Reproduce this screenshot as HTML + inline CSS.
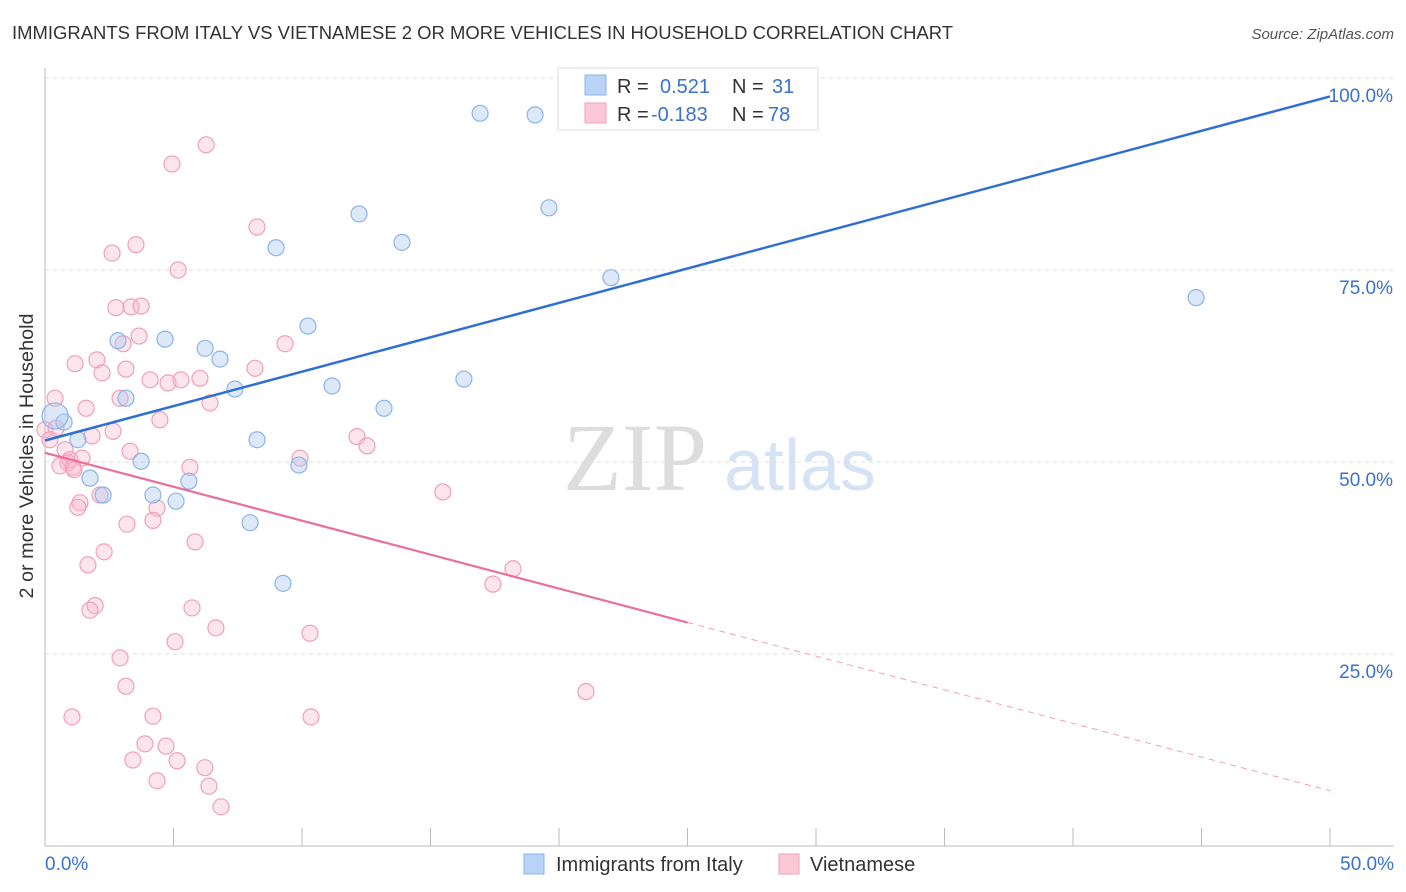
<!DOCTYPE html>
<html><head><meta charset="utf-8"><style>
body{margin:0;background:#fff;font-family:"Liberation Sans",sans-serif}
svg{display:block}
</style></head><body>
<svg id="chart" width="1406" height="892">
<text x="12" y="39" font-size="18" fill="#333" textLength="941" lengthAdjust="spacingAndGlyphs">IMMIGRANTS FROM ITALY VS VIETNAMESE 2 OR MORE VEHICLES IN HOUSEHOLD CORRELATION CHART</text>
<text x="1394" y="39" font-size="15" fill="#555" font-style="italic" text-anchor="end">Source: ZipAtlas.com</text>
<text x="635" y="490" font-size="96" fill="#ddd" font-family="Liberation Serif" text-anchor="middle">ZIP</text>
<text x="800" y="490" font-size="72" fill="#d5e3f5" text-anchor="middle">atlas</text>
<g id="grid"></g><g id="pts"></g><g id="lines"></g>
<text transform="translate(33,456) rotate(-90)" font-size="19" fill="#333" text-anchor="middle" textLength="285" lengthAdjust="spacingAndGlyphs">2 or more Vehicles in Household</text>
<g>
<rect x="558" y="68" width="260" height="62" fill="#fff" stroke="#ddd"/>
<rect x="585" y="75" width="21" height="20" fill="#b8d3f5" stroke="#8ab4ea"/>
<rect x="585" y="103" width="21" height="20" fill="#fcc8d7" stroke="#f0a0b8"/>
<text x="617" y="93" font-size="20" fill="#333">R = </text><text x="660" y="93" font-size="20" fill="#3a72cc">0.521</text>
<text x="732" y="93" font-size="20" fill="#333">N = </text><text x="772" y="93" font-size="20" fill="#3a72cc">31</text>
<text x="617" y="121" font-size="20" fill="#333">R = </text><text x="651" y="121" font-size="20" fill="#3a72cc">-0.183</text>
<text x="732" y="121" font-size="20" fill="#333">N = </text><text x="768" y="121" font-size="20" fill="#3a72cc">78</text>
</g>
<g>
<rect x="524" y="854" width="20" height="20" fill="#b8d3f5" stroke="#8ab4ea"/>
<text x="556" y="871" font-size="20" fill="#333">Immigrants from Italy</text>
<rect x="779" y="854" width="20" height="20" fill="#fcc8d7" stroke="#f0a0b8"/>
<text x="810" y="871" font-size="20" fill="#333">Vietnamese</text>
</g>
</svg>
<script>
const yTicks=[25,50,75,100];
const yTickLabels=["25.0%","50.0%","75.0%","100.0%"];
const xTickLabels=["0.0%","50.0%"];
const italyX=[16.93,19.07,19.61,12.22,13.89,8.99,22.02,44.79,10.23,4.67,2.84,6.23,6.81,16.30,11.17,7.39,3.15,13.19,0.74,0.39,1.28,8.25,3.74,9.88,1.75,5.60,4.20,2.26,5.10,7.98,9.26];
const italyY=[95.4,95.2,83.1,82.3,78.6,77.9,74.0,71.4,67.7,66.0,65.8,64.8,63.4,60.8,59.9,59.5,58.3,57.0,55.2,56.0,52.9,52.9,50.1,49.6,47.9,47.5,45.7,45.7,44.9,42.1,34.2];
const vietX=[6.27,4.94,8.25,3.54,2.61,5.18,2.76,3.35,3.74,3.66,3.04,9.34,2.02,1.17,3.15,2.22,4.09,5.29,4.79,6.03,8.17,0.39,2.92,6.42,1.60,4.47,12.14,12.53,1.83,2.65,0.43,0,0.19,0.78,3.31,9.92,1.44,0.97,0.89,0.58,1.09,5.64,1.13,2.14,15.48,1.36,1.28,4.36,4.20,3.19,5.84,2.30,1.67,18.21,17.43,1.95,1.75,5.72,6.65,10.31,5.06,2.92,3.15,21.05,1.05,10.35,4.20,3.89,4.71,3.42,5.14,6.22,4.36,6.38,6.85];
const vietY=[91.3,88.8,80.6,78.3,77.2,75.0,70.1,70.2,70.3,66.4,65.4,65.4,63.3,62.8,62.1,61.6,60.7,60.7,60.3,60.9,62.2,58.3,58.3,57.7,57.0,55.5,53.3,52.1,53.4,54.0,54.4,54.2,52.9,51.6,51.4,50.5,50.5,50.3,49.9,49.5,49.3,49.3,49.0,45.7,46.1,44.7,44.1,44.0,42.4,41.9,39.6,38.3,36.6,36.1,34.1,31.3,30.7,31.0,28.4,27.7,26.6,24.5,20.8,20.1,16.8,16.8,16.9,13.3,13.0,11.2,11.1,10.2,8.5,7.8,5.1];
const italyTrend=[[0,52.8],[50,97.6]];
const vietTrend=[[0,51.2],[25,29.1],[50,7.2]];
const X=v=>45+v/50*1285, Y=v=>846-v*7.68;
const NS="http://www.w3.org/2000/svg";
function mk(t,a,p){const e=document.createElementNS(NS,t);for(const k in a)e.setAttribute(k,a[k]);p.appendChild(e);return e;}
const grid=document.getElementById('grid'),pts=document.getElementById('pts'),lines=document.getElementById('lines');
yTicks.forEach((t,i)=>{
 const l=mk('line',{x1:45,x2:1394,y1:Y(t),y2:Y(t),stroke:'#ddd','stroke-dasharray':'4,4'},grid);
 
 
 const tx=mk('text',{x:1393,y:Y(t)+24,'font-size':19,fill:'#3a72cc','text-anchor':'end'},grid);
 tx.textContent=yTickLabels[i];
 
 
});
const ax=mk('line',{x1:45,x2:1394,y1:846,y2:846,stroke:'#bbb'},grid);


const ay=mk('line',{x1:45,x2:45,y1:68,y2:846,stroke:'#bbb'},grid);


for(let i=0;i<=10;i++){const tk=mk('line',{x1:X(i*5),x2:X(i*5),y1:828,y2:846,stroke:'#bbb'},grid);
 
 }
[[0,'start',45],[1,'end',1394]].forEach(([i,a,x])=>{const t=mk('text',{x:x,y:870,'font-size':19,fill:'#3a72cc','text-anchor':a},grid);t.textContent=xTickLabels[i];
 
 });
vietX.forEach((v,i)=>{const c=mk('circle',{cx:X(v),cy:Y(vietY[i]),r:8,fill:'rgba(248,180,200,0.35)',stroke:'#f0a0b8','stroke-width':1.2},pts);
 
 });
italyX.forEach((v,i)=>{const c=mk('circle',{cx:X(v),cy:Y(italyY[i]),r:(i==19?13:8),fill:'rgba(170,200,240,0.4)',stroke:'#8ab4ea','stroke-width':1.2},pts);
 
 });
const bl=mk('line',{x1:X(italyTrend[0][0]),y1:Y(italyTrend[0][1]),x2:X(italyTrend[1][0]),y2:Y(italyTrend[1][1]),stroke:'#2f6fd4','stroke-width':2.5},lines);


const pl=mk('line',{x1:X(vietTrend[0][0]),y1:Y(vietTrend[0][1]),x2:X(vietTrend[1][0]),y2:Y(vietTrend[1][1]),stroke:'#e8709a','stroke-width':2.2},lines);


const pd=mk('line',{x1:X(vietTrend[1][0]),y1:Y(vietTrend[1][1]),x2:X(vietTrend[2][0]),y2:Y(vietTrend[2][1]),stroke:'#f0a0b8','stroke-width':1,'stroke-dasharray':'6,5'},lines);


</script>
</body></html>
